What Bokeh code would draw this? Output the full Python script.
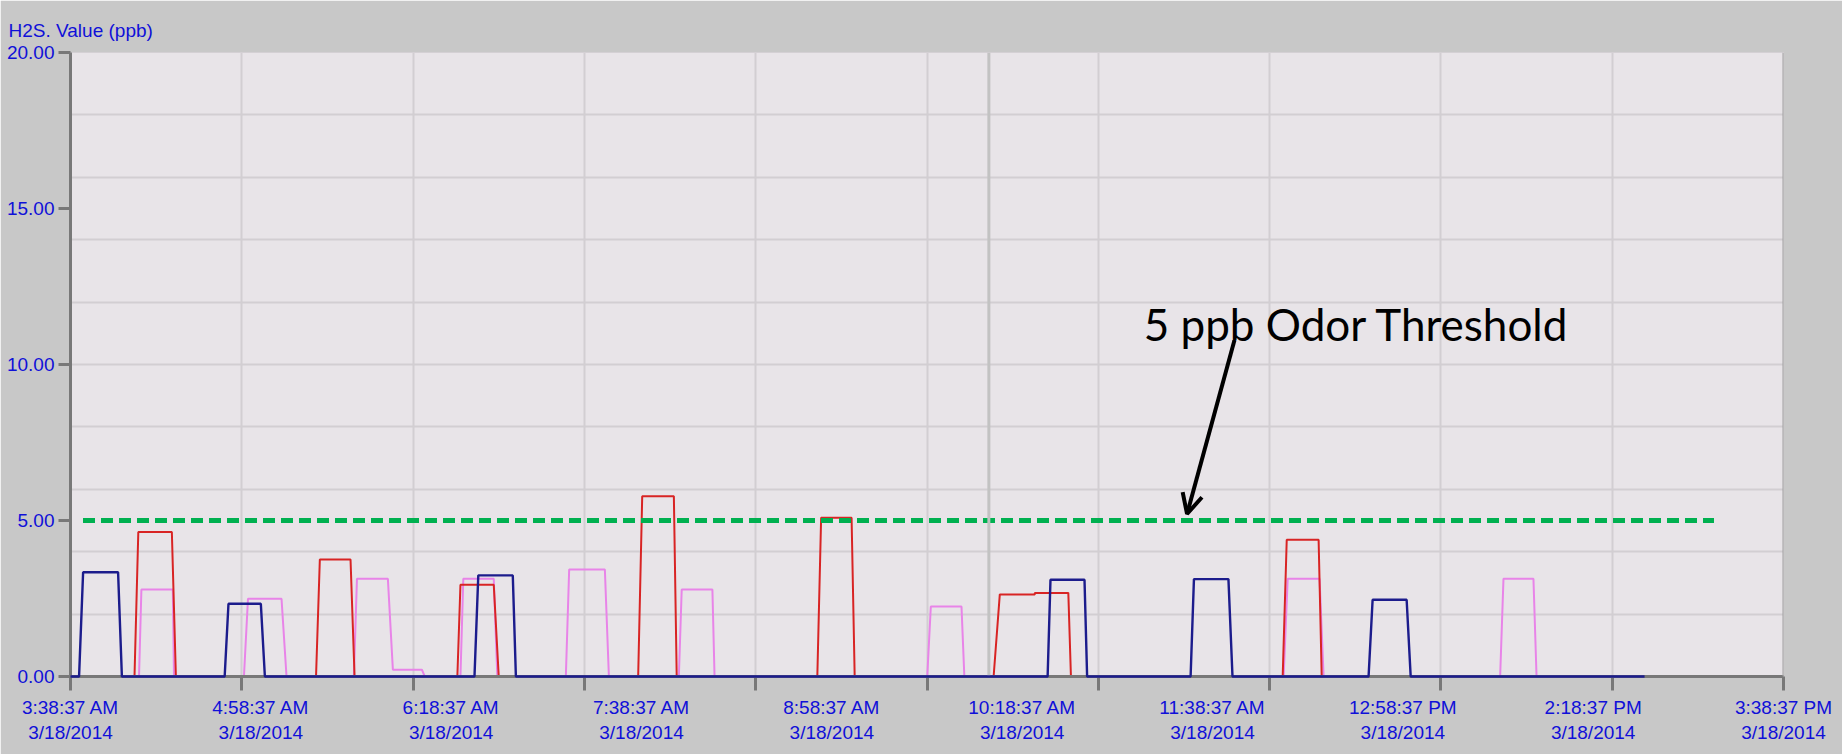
from bokeh.plotting import figure
from bokeh.models import FixedTicker, Span, Label, Arrow, OpenHead
from bokeh.embed import file_html
from bokeh.resources import INLINE

# ---------------- data (minutes after 3:38:37 AM, value in ppb) ----------------
blue_t = [0, 3.6, 5.3, 20.0, 21.6, 64.8, 66.4, 80.0, 81.7, 169.8, 171.4, 185.9, 187.2,
          410.7, 411.9, 426.2, 427.3, 470.8, 472.2, 486.7, 488.4, 545.6, 547.3, 561.6, 563.3, 661.6]
blue_v = [0, 0, 3.34, 3.34, 0, 0, 2.33, 2.33, 0, 0, 3.24, 3.24, 0,
          0, 3.10, 3.10, 0, 0, 3.12, 3.12, 0, 0, 2.46, 2.46, 0, 0]

red_t = [0, 26.9, 28.5, 42.6, 44.3, 103.2, 104.8, 117.7, 119.4, 162.6, 163.9, 177.9, 180.0,
         238.6, 240.3, 253.6, 254.8, 313.9, 315.5, 328.3, 329.6,
         388.0, 390.6, 405.3, 405.3, 419.4, 420.5, 509.5, 511.2, 524.6, 525.9, 661.6]
red_v = [0, 0, 4.63, 4.63, 0, 0, 3.75, 3.75, 0, 0, 2.94, 2.94, 0,
         0, 5.78, 5.78, 0, 0, 5.09, 5.09, 0,
         0, 2.63, 2.63, 2.68, 2.68, 0, 0, 4.38, 4.38, 0, 0]

pink_t = [0, 28.8, 29.8, 43.0, 43.5, 72.9, 74.6, 88.7, 90.8,
          119.1, 120.4, 133.4, 135.5, 147.7, 148.9, 163.9, 165.1, 177.9, 179.4,
          208.2, 209.6, 224.6, 226.3, 255.7, 256.9, 269.8, 270.7, 360.1, 361.6, 374.5, 375.7,
          509.9, 511.6, 525.0, 526.7, 600.9, 602.3, 614.9, 616.2, 661.6]
pink_v = [0, 0, 2.79, 2.79, 0, 0, 2.49, 2.49, 0,
          0, 3.13, 3.13, 0.22, 0.22, 0, 0, 3.13, 3.13, 0,
          0, 3.43, 3.43, 0, 0, 2.79, 2.79, 0, 0, 2.24, 2.24, 0,
          0, 3.13, 3.13, 0, 0, 3.13, 3.13, 0, 0]

threshold_value = 5.0
threshold_t = [5.25, 690.8]

label_minutes = [0, 80, 160, 240, 320, 400, 480, 560, 640, 720]
label_times = ["3:38:37 AM", "4:58:37 AM", "6:18:37 AM", "7:38:37 AM", "8:58:37 AM",
               "10:18:37 AM", "11:38:37 AM", "12:58:37 PM", "2:18:37 PM", "3:38:37 PM"]
label_date = "3/18/2014"
tick_minutes = [0, 72, 144, 216, 288, 360, 432, 504, 576, 648, 720]
cursor_minute = 386
y_ticks = [0, 5, 10, 15, 20]
y_grid = [2, 4, 6, 8, 10, 12, 14, 16, 18]

annotation_text = "5 ppb Odor Threshold"
annotation_xy = (451.1, 11.3)
arrow_from = (489.2, 10.77)
arrow_to = (469.3, 5.21)

# ---------------- figure ----------------
FONT = "Liberation Sans"
FS = "19px"
BLUE_TXT = "#1010d8"
AX = "#787878"

p = figure(frame_width=1713, frame_height=624, x_range=(0, 720), y_range=(0, 20),
           output_backend="svg", toolbar_location=None,
           min_border_left=70, min_border_right=59, min_border_top=52, min_border_bottom=78)
p.background_fill_color = "#e8e4e8"
p.border_fill_color = "#c8c8c8"
p.outline_line_color = "#d4d0d4"

p.title.text = "H2S. Value (ppb)"
p.title.text_font = FONT
p.title.text_font_size = FS
p.title.text_font_style = "normal"
p.title.text_color = BLUE_TXT
p.title.align = "left"
p.title.offset = -62
p.title.standoff = 24

# x axis
xa = p.xaxis[0]
xa.ticker = FixedTicker(ticks=label_minutes, minor_ticks=tick_minutes)
xa.major_label_overrides = {m: f"{t}\n{label_date}" for m, t in zip(label_minutes, label_times)}
xa.major_tick_line_color = None
xa.major_tick_out = 14
xa.major_tick_in = 0
xa.minor_tick_out = 14
xa.minor_tick_in = 0
xa.minor_tick_line_width = 3
xa.minor_tick_line_color = AX
xa.axis_line_color = AX
xa.axis_line_width = 3
xa.major_label_standoff = 6
xa.major_label_text_font = FONT
xa.major_label_text_font_size = FS
xa.major_label_text_color = BLUE_TXT

# y axis
ya = p.yaxis[0]
ya.ticker = FixedTicker(ticks=y_ticks)
ya.major_label_overrides = {v: f"{v:.2f}" for v in y_ticks}
ya.major_tick_out = 12
ya.major_tick_in = 0
ya.major_tick_line_width = 3
ya.major_tick_line_color = AX
ya.minor_tick_line_color = None
ya.axis_line_color = AX
ya.axis_line_width = 3
ya.major_label_standoff = 4
ya.major_label_text_font = FONT
ya.major_label_text_font_size = FS
ya.major_label_text_color = BLUE_TXT

p.xgrid.ticker = FixedTicker(ticks=tick_minutes[1:-1])
p.ygrid.ticker = FixedTicker(ticks=y_grid)
for g in (p.xgrid[0], p.ygrid[0]):
    g.grid_line_color = "#d2ced2"
    g.grid_line_width = 2

p.add_layout(Span(location=cursor_minute, dimension="height", line_color="#c2c2c2", line_width=3))
p.add_layout(Span(location=720, dimension="height", line_color="#a0a0a0", line_width=2))

# series (blue drawn above the axis line so its zero baseline shows)
p.line(pink_t, pink_v, line_color="#e884e8", line_width=2)
p.line(red_t, red_v, line_color="#d82424", line_width=2)
rb = p.line(blue_t, blue_v, line_color="#1c1c8c", line_width=2.4)
rb.level = "overlay"

# threshold
p.line(threshold_t, [threshold_value, threshold_value], line_color="#00b050",
       line_width=5, line_dash="12 6")

p.add_layout(Label(x=annotation_xy[0], y=annotation_xy[1], text=annotation_text,
                   text_font="Lato", text_font_size="44px", text_color="black",
                   text_baseline="alphabetic"))
p.add_layout(Arrow(end=OpenHead(size=20, line_width=4, line_color="black"),
                   x_start=arrow_from[0], y_start=arrow_from[1],
                   x_end=arrow_to[0], y_end=arrow_to[1],
                   line_width=4, line_color="black"))

open("out.html", "w").write(file_html(p, INLINE))
